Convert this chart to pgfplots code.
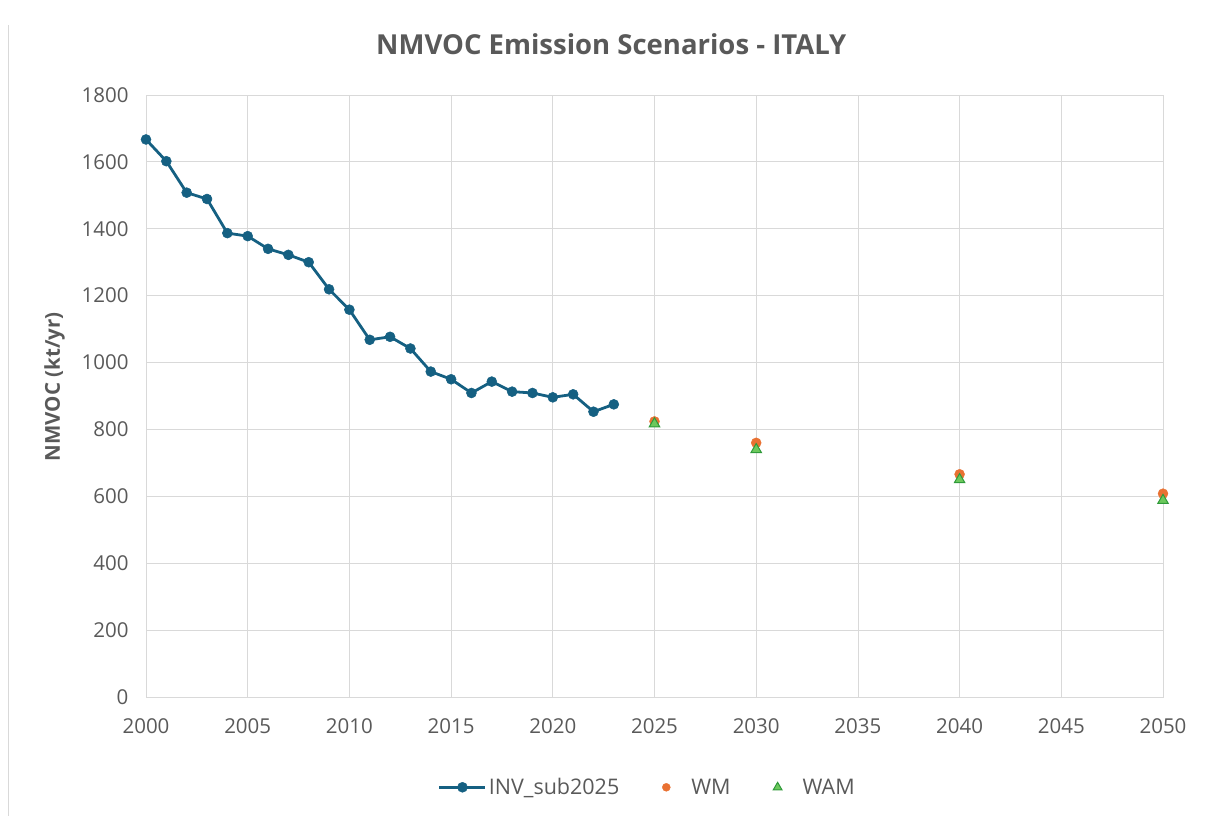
\documentclass[border=0pt]{standalone}
\usepackage{fontspec}
\setmainfont{Open Sans}
\usepackage{pgfplots}
\pgfplotsset{compat=1.18}
\definecolor{invblue}{HTML}{156082}
\definecolor{wmorange}{HTML}{E97132}
\definecolor{wamfill}{HTML}{6CC85C}
\definecolor{wamedge}{HTML}{2F9A3A}
\definecolor{gridgray}{HTML}{D9D9D9}
\definecolor{txtgray}{HTML}{595959}
\begin{document}
\begin{tikzpicture}[x=1pt,y=1pt]
\useasboundingbox (0,0) rectangle (1205,816);
\draw[gridgray, line width=0.8pt] (8,0) -- (8,791);
\begin{axis}[
  at={(146pt,119pt)}, anchor=south west,
  width=1017pt, height=602pt, scale only axis,
  xmin=2000, xmax=2050, ymin=0, ymax=1800,
  xtick={2000,2005,...,2050}, ytick={0,200,...,1800},
  grid=major, grid style={gridgray, line width=0.8pt},
  axis line style={gridgray, line width=0.8pt},
  major tick length=0pt,
  /pgf/number format/assume math mode=true,
  /pgf/number format/1000 sep={},
  ticklabel style={font=\fontsize{20.5}{24}\selectfont, text=txtgray},
  xticklabel style={yshift=-18pt},
  yticklabel style={xshift=-14pt},
  ylabel={NMVOC (kt/yr)},
  ylabel style={at={(axis description cs:-0.09,0.515)}, anchor=center, font=\bfseries\fontsize{20.5}{24}\selectfont, text=txtgray},
  title={NMVOC Emission Scenarios - ITALY},
  title style={at={(axis description cs:0.4575,1.058)}, anchor=base, font=\bfseries\fontsize{27.5}{32}\selectfont, text=txtgray},
  legend columns=3,
  legend style={at={(axis description cs:0.493,-0.15)}, anchor=center, draw=none, fill=none, font=\fontsize{21.5}{24}\selectfont, text=txtgray, /tikz/every even column/.append style={column sep=22pt}},
  legend image code/.code={\draw[#1] (0pt,0pt) -- (46pt,0pt); \path[#1, draw opacity=1] plot coordinates {(23pt,0pt)};},
]
\addplot[invblue, line width=2.8pt, mark=*, mark size=5pt, mark options={fill=invblue, draw=invblue, line width=0.5pt}] coordinates {
(2000,1667) (2001,1602) (2002,1508) (2003,1489) (2004,1387) (2005,1378)
(2006,1340) (2007,1322) (2008,1300) (2009,1219) (2010,1158) (2011,1068)
(2012,1077) (2013,1042) (2014,973) (2015,950) (2016,909) (2017,943)
(2018,913) (2019,909) (2020,896) (2021,905) (2022,853) (2023,875)
};
\addlegendentry{INV\_sub2025}
\addplot[only marks, mark=*, mark size=5pt, mark options={fill=wmorange, draw=wmorange}, legend image code/.code={\path[draw=none, fill=none] (0pt,0pt) -- (46pt,0pt); \path[mark=*, mark size=4pt, mark options={fill=wmorange, draw=wmorange}] plot coordinates {(23pt,0pt)};}] coordinates {
(2025,824) (2030,760) (2040,666) (2050,608)
};
\addlegendentry{WM}
\addplot[only marks, mark=triangle*, mark size=6pt, mark options={fill=wamfill, draw=wamedge, line width=1pt}, legend image code/.code={\path[draw=none, fill=none] (0pt,0pt) -- (46pt,0pt); \path[mark=triangle*, mark size=5pt, mark options={fill=wamfill, draw=wamedge, line width=1pt}] plot coordinates {(23pt,0pt)};}] coordinates {
(2025,817) (2030,740) (2040,650) (2050,588)
};
\addlegendentry{WAM}
\end{axis}
\end{tikzpicture}
\end{document}
